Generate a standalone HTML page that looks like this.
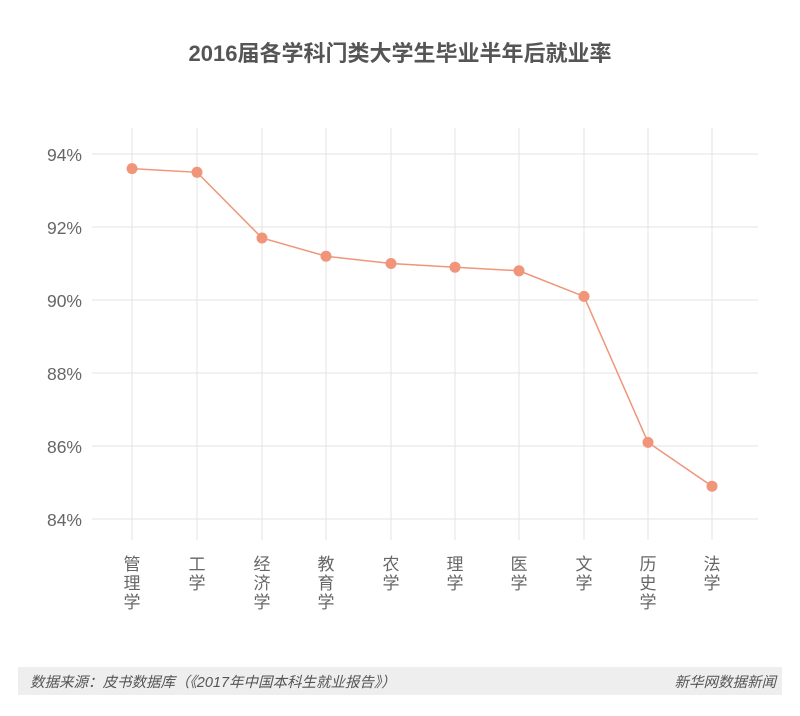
<!DOCTYPE html>
<html><head><meta charset="utf-8"><style>
body{margin:0;background:#fff;}
svg text{font-family:"Liberation Sans","Noto Sans CJK SC",sans-serif;}
</style></head><body>
<svg width="800" height="711" xmlns="http://www.w3.org/2000/svg">
<rect width="800" height="711" fill="#fff"/>
<text x="400" y="61" text-anchor="middle" font-size="22" font-weight="bold" fill="#555">2016届各学科门类大学生毕业半年后就业率</text>
<g stroke="#e3e3e3" stroke-width="1">
<line x1="92" x2="758" y1="154" y2="154"/><line x1="92" x2="758" y1="227" y2="227"/>
<line x1="92" x2="758" y1="300" y2="300"/><line x1="92" x2="758" y1="373" y2="373"/>
<line x1="92" x2="758" y1="446" y2="446"/><line x1="92" x2="758" y1="519" y2="519"/>
<line x1="132" x2="132" y1="128" y2="540"/><line x1="197" x2="197" y1="128" y2="540"/>
<line x1="262" x2="262" y1="128" y2="540"/><line x1="326" x2="326" y1="128" y2="540"/>
<line x1="391" x2="391" y1="128" y2="540"/><line x1="455" x2="455" y1="128" y2="540"/>
<line x1="519" x2="519" y1="128" y2="540"/><line x1="584" x2="584" y1="128" y2="540"/>
<line x1="648" x2="648" y1="128" y2="540"/><line x1="712" x2="712" y1="128" y2="540"/>
</g>
<g font-size="17.5" fill="#666" text-anchor="end">
<text x="82" y="161">94%</text><text x="82" y="234">92%</text><text x="82" y="307">90%</text>
<text x="82" y="380">88%</text><text x="82" y="453">86%</text><text x="82" y="526">84%</text>
</g>
<polyline fill="none" stroke="#f0957a" stroke-width="1.5" points="132,168.6 197,172.3 262,238 326,256.2 391,263.5 455,267.2 519,270.8 584,296.4 648,442.4 712,486.2"/>
<g fill="#f0957a">
<circle cx="132" cy="168.6" r="5.5"/><circle cx="197" cy="172.3" r="5.5"/><circle cx="262" cy="238" r="5.5"/>
<circle cx="326" cy="256.2" r="5.5"/><circle cx="391" cy="263.5" r="5.5"/><circle cx="455" cy="267.2" r="5.5"/>
<circle cx="519" cy="270.8" r="5.5"/><circle cx="584" cy="296.4" r="5.5"/><circle cx="648" cy="442.4" r="5.5"/>
<circle cx="712" cy="486.2" r="5.5"/>
</g>
<g font-size="17" fill="#666" text-anchor="middle">
<text x="132" y="570">管</text><text x="132" y="589">理</text><text x="132" y="608">学</text>
<text x="197" y="570">工</text><text x="197" y="589">学</text>
<text x="262" y="570">经</text><text x="262" y="589">济</text><text x="262" y="608">学</text>
<text x="326" y="570">教</text><text x="326" y="589">育</text><text x="326" y="608">学</text>
<text x="391" y="570">农</text><text x="391" y="589">学</text>
<text x="455" y="570">理</text><text x="455" y="589">学</text>
<text x="519" y="570">医</text><text x="519" y="589">学</text>
<text x="584" y="570">文</text><text x="584" y="589">学</text>
<text x="648" y="570">历</text><text x="648" y="589">史</text><text x="648" y="608">学</text>
<text x="712" y="570">法</text><text x="712" y="589">学</text>
</g>
<rect x="18" y="667" width="764" height="28" fill="#eeeeee"/>
<text x="30" y="687" font-size="14.5" font-style="italic" fill="#555">数据来源：皮书数据库（《2017年中国本科生就业报告》）</text>
<text x="776" y="687" font-size="14.5" font-style="italic" fill="#555" text-anchor="end">新华网数据新闻</text>
</svg>
</body></html>
